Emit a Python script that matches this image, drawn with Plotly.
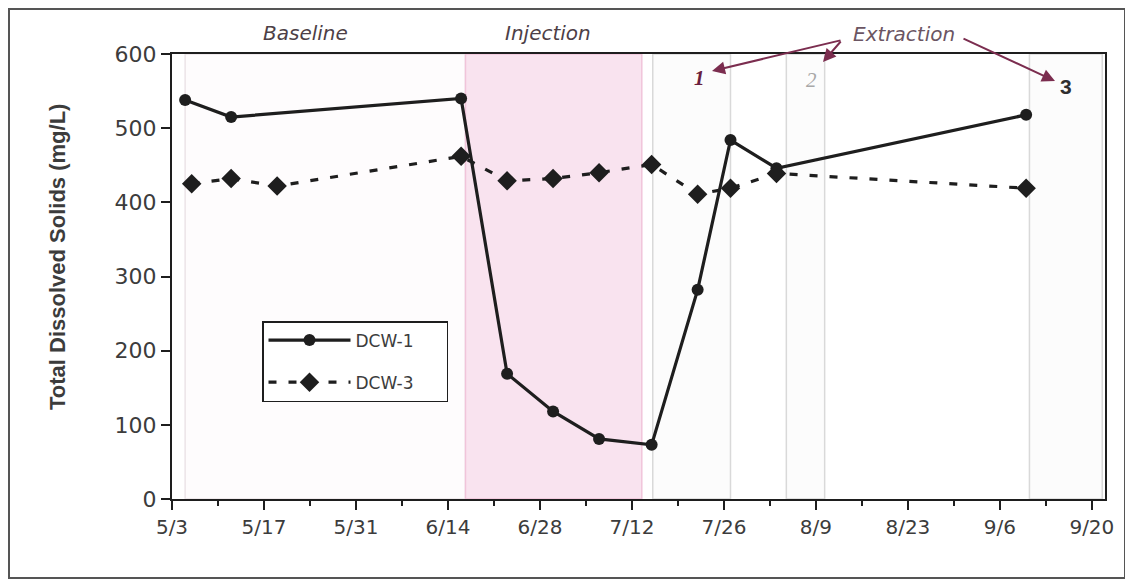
import plotly.graph_objects as go

# ---------------- data ----------------
dcw1_dates = ["2004-05-05", "2004-05-12", "2004-06-16", "2004-06-23", "2004-06-30",
              "2004-07-07", "2004-07-15", "2004-07-22", "2004-07-27", "2004-08-03", "2004-09-10"]
dcw1_tds = [538, 515, 540, 169, 118, 81, 73, 282, 484, 446, 518]

dcw3_dates = ["2004-05-06", "2004-05-12", "2004-05-19", "2004-06-16", "2004-06-23", "2004-06-30",
              "2004-07-07", "2004-07-15", "2004-07-22", "2004-07-27", "2004-08-03", "2004-09-10"]
dcw3_tds = [425, 432, 422, 462, 429, 432, 440, 451, 411, 419, 439, 419]

series_names = ["DCW-1", "DCW-3"]

phase_names = ["Baseline", "Injection", "Extraction 1", "Extraction 2", "Extraction 3"]
phase_starts = ["2004-05-05", "2004-06-16 16:00", "2004-07-15 04:00", "2004-08-04 12:00", "2004-09-10 12:00"]
phase_ends = ["2004-06-16 16:00", "2004-07-13 12:00", "2004-07-27 00:00", "2004-08-10 08:00", "2004-09-21 14:00"]

x_range = ["2004-05-03", "2004-09-22"]
y_range = [0, 600]

# ---------------- layout helpers (page pixel -> paper) ----------------
OFF = 8                      # browser body margin
W, H = 1133 - OFF, 585 - OFF  # figure size so the page fits the window
L, R, T, B = 172, 1105, 54, 499   # plot area in page pixels


def px(x):
    return (x - L) / (R - L)


def py(y):
    return (B - y) / (B - T)


pad = "\u00a0" * 5   # extra legend padding on the right

fig = go.Figure()

fig.add_trace(go.Scatter(
    x=dcw1_dates, y=dcw1_tds, name=series_names[0] + pad, mode="lines+markers",
    line=dict(color="#1e1e1e", width=3.2),
    marker=dict(symbol="circle", size=12, color="#1e1e1e"),
    legendgroup="a",
))
fig.add_trace(go.Scatter(
    x=dcw3_dates, y=dcw3_tds, name=series_names[1] + pad, mode="lines+markers",
    line=dict(color="#1e1e1e", width=3.2, dash="8px,12px"),
    marker=dict(symbol="diamond", size=15, color="#1e1e1e"),
    legendgroup="b",
))

# phase shading
phase_fill = ["#fefcfd", "#f9e3ef", "#fcfcfc", "#fcfcfc", "#fcfcfc"]
phase_line = ["#ece4e8", "#f1c4da", "#d9d9d9", "#d9d9d9", "#d9d9d9"]
for s, e, fc, lc in zip(phase_starts, phase_ends, phase_fill, phase_line):
    fig.add_shape(type="rect", xref="x", yref="paper", x0=s, x1=e, y0=0, y1=1,
                  fillcolor=fc, line=dict(color=lc, width=1.5), layer="below")

# outer frame
fig.add_shape(type="rect", xref="paper", yref="paper",
              x0=px(9), x1=px(1125), y0=py(578), y1=py(9),
              line=dict(color="#555555", width=2), fillcolor="rgba(0,0,0,0)")


def label(text, x, y, size, color, family="DejaVu Sans"):
    fig.add_annotation(text=text, xref="paper", yref="paper", x=px(x), y=py(y),
                       xanchor="center", yanchor="middle", showarrow=False,
                       font=dict(size=size, color=color, family=family))


lab_color = "#4d3f47"
label("<i>Baseline</i>", 305, 33, 20, lab_color)
label("<i>Injection</i>", 548, 33, 20, lab_color)
label("<i>Extraction</i>", 904, 34, 20, "#6b5563")

arrow_color = "#7b2d4f"
for hx, hy, tx, ty in [(712, 71, 842, 40), (823, 62, 842, 40), (1055, 81, 962, 38)]:
    fig.add_annotation(text="", xref="paper", yref="paper", x=px(hx), y=py(hy),
                       ax=tx - hx, ay=ty - hy, showarrow=True, arrowhead=2,
                       arrowsize=1.3, arrowwidth=2, arrowcolor=arrow_color, standoff=0)

label("<b><i>1</i></b>", 699, 78, 21, "#6a1f3e", "Liberation Serif")
label("<i>2</i>", 811, 80, 21, "#a8a8a8", "Liberation Serif")
label("<b>3</b>", 1066, 86, 21, "#2e2e2e", "Liberation Sans")

# y-axis title
fig.add_annotation(text="<b>Total Dissolved Solids (mg/L)</b>", xref="paper", yref="paper",
                   x=px(57), y=py(257), xanchor="center", yanchor="middle",
                   textangle=-90, showarrow=False,
                   font=dict(size=22, color="#3c3c3c", family="Liberation Sans"))

fig.update_layout(
    width=W, height=H,
    margin=dict(l=L - OFF, r=W - (R - OFF), t=T - OFF, b=H - (B - OFF), pad=0),
    paper_bgcolor="white", plot_bgcolor="white",
    font=dict(family="DejaVu Sans", color="#3c3c3c"),
    showlegend=True,
    legend=dict(x=px(262), y=py(321), xanchor="left", yanchor="top",
                bgcolor="white", bordercolor="#1e1e1e", borderwidth=1.5,
                font=dict(size=17, color="#3c3c3c"), itemwidth=82,
                tracegroupgap=17),
)

fig.update_xaxes(
    type="date", range=x_range, tick0="2004-05-03", dtick=14 * 86400000,
    tickformat="%-m/%-d", ticks="outside", ticklen=9, tickwidth=2, tickcolor="#1e1e1e",
    minor=dict(dtick=7 * 86400000, tick0="2004-05-03", ticks="outside", ticklen=5,
               tickwidth=2, tickcolor="#1e1e1e"),
    showline=True, linecolor="#1e1e1e", linewidth=2, mirror=True,
    showgrid=False, zeroline=False,
    tickfont=dict(size=20, color="#3c3c3c"),
)
fig.update_yaxes(
    range=y_range, dtick=100, ticks="outside", ticklen=9, tickwidth=2, tickcolor="#1e1e1e",
    showline=True, linecolor="#1e1e1e", linewidth=2, mirror=True,
    showgrid=False, zeroline=False,
    tickfont=dict(size=22, color="#3c3c3c"),
)

fig.write_html("out.html")
